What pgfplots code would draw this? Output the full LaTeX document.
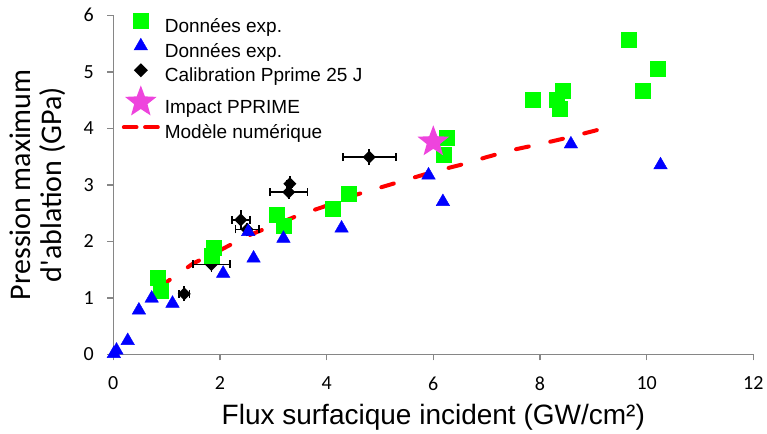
\documentclass[border=0pt]{standalone}
\usepackage{pgfplots}
\pgfplotsset{compat=1.18}
\usepackage{fontspec}
\setmainfont{Liberation Sans}
\newfontfamily\calibri{Carlito}
\definecolor{mgreen}{RGB}{0,255,0}
\definecolor{mblue}{RGB}{0,0,255}
\definecolor{mpink}{RGB}{238,68,221}
\definecolor{axgray}{RGB}{134,134,134}
\pgfdeclareplotmark{fstar}{%
  \pgfpathmoveto{\pgfpointpolar{90}{\pgfplotmarksize}}%
  \pgfpathlineto{\pgfpointpolar{126}{0.42\pgfplotmarksize}}%
  \pgfpathlineto{\pgfpointpolar{162}{\pgfplotmarksize}}%
  \pgfpathlineto{\pgfpointpolar{198}{0.42\pgfplotmarksize}}%
  \pgfpathlineto{\pgfpointpolar{234}{\pgfplotmarksize}}%
  \pgfpathlineto{\pgfpointpolar{270}{0.42\pgfplotmarksize}}%
  \pgfpathlineto{\pgfpointpolar{306}{\pgfplotmarksize}}%
  \pgfpathlineto{\pgfpointpolar{342}{0.42\pgfplotmarksize}}%
  \pgfpathlineto{\pgfpointpolar{18}{\pgfplotmarksize}}%
  \pgfpathlineto{\pgfpointpolar{54}{0.42\pgfplotmarksize}}%
  \pgfpathclose\pgfusepathqfill}
\pgfdeclareplotmark{sdiamond}{%
  \pgfpathmoveto{\pgfqpoint{0pt}{\pgfplotmarksize}}%
  \pgfpathlineto{\pgfqpoint{\pgfplotmarksize}{0pt}}%
  \pgfpathlineto{\pgfqpoint{0pt}{-\pgfplotmarksize}}%
  \pgfpathlineto{\pgfqpoint{-\pgfplotmarksize}{0pt}}%
  \pgfpathclose\pgfusepathqfill}

\pgfplotstableread{
x y
0.84 1.35
0.89 1.13
1.85 1.74
1.89 1.88
3.06 2.47
3.19 2.27
4.11 2.58
4.41 2.84
6.19 3.54
6.25 3.83
7.86 4.50
8.32 4.50
8.37 4.34
8.43 4.67
9.66 5.56
9.92 4.67
10.20 5.06
}\greendata

\pgfplotstableread{
x y
0.01 0.01
0.06 0.07
0.27 0.24
0.48 0.78
0.72 0.99
1.11 0.90
2.06 1.43
2.53 2.17
2.63 1.70
3.19 2.05
4.28 2.23
5.91 3.17
6.18 2.70
8.58 3.72
10.26 3.35
}\bluedata

\pgfplotstableread{
x y ex ey
1.33 1.07 0.10 0.06
1.84 1.59 0.35 0.06
2.39 2.38 0.17 0.10
2.51 2.21 0.22 0.05
3.31 3.02 0.05 0.06
3.29 2.87 0.35 0.05
4.80 3.49 0.50 0.07
}\blackdata

\pgfplotstableread{
x y
0.85 1.20
1.0 1.28
1.5 1.61
2.0 1.84
2.5 2.09
3.0 2.28
3.5 2.47
4.0 2.63
4.5 2.81
5.0 2.95
5.5 3.09
6.0 3.23
6.5 3.35
7.0 3.49
7.5 3.62
8.0 3.72
8.5 3.83
9.16 3.99
}\modeldata

\begin{document}
\begin{tikzpicture}
\useasboundingbox (0,0) rectangle (767pt,433pt);
\begin{axis}[
  at={(113.3pt,78.7pt)}, anchor=south west,
  scale only axis, width=640pt, height=339pt,
  xmin=0, xmax=12, ymin=0, ymax=6,
  xtick={0,2,...,12}, ytick={0,1,...,6},
  axis x line*=bottom, axis y line*=left,
  axis line style={axgray, line width=1.5pt, -},
  tick style={axgray, line width=1.5pt},
  tick align=outside, major tick length=6pt,
  /pgf/number format/assume math mode=true,
  ticklabel style={font=\calibri\fontsize{20}{24}\selectfont, text=black},
  yticklabel style={xshift=-10pt},
  xticklabel style={yshift=-13pt},
  xlabel={Flux surfacique incident (GW/cm²)},
  xlabel style={font=\fontsize{28}{30}\selectfont, at={(axis description cs:0.5,0)}, anchor=base, yshift=-69.7pt},
  ylabel={Pression maximum\\d'ablation (GPa)},
  ylabel style={font=\calibri\fontsize{30}{31}\selectfont, align=center, at={(axis description cs:-0.1177,0.5)}, anchor=center},
  legend image code/.code={\draw[mark repeat=2,mark phase=2,#1] plot coordinates {(0pt,6.5pt)(19pt,6.5pt)(38pt,6.5pt)};},
  legend cell align=left,
  legend style={draw=none, fill=none, inner sep=0pt, at={(rel axis cs:0.013,1.006)}, anchor=north west,
    font=\fontsize{19}{22}\selectfont, row sep=1.5pt,
    nodes={inner xsep=5pt, inner ysep=0pt, text height=14pt, text depth=4.5pt}},
]
\addlegendimage{only marks, mark=square*, mark size=7.5pt, mgreen}
\addlegendentry{Données exp.}
\addlegendimage{only marks, mark=triangle*, mark size=7.8pt, mblue}
\addlegendentry{Données exp.}
\addlegendimage{only marks, mark=sdiamond, mark size=7pt, black}
\addlegendentry{Calibration Pprime 25 J}
\addlegendimage{legend image code/.code={\path[overlay, draw=none, fill=mpink] plot[mark=fstar, mark size=16.6pt, only marks, mark options={draw=none, fill=mpink}] coordinates {(19pt,6.5pt)}; \path[draw=none, fill=none] (19pt,-14.5pt) -- (19pt,21pt);}}
\addlegendentry{Impact PPRIME}
\addlegendimage{legend image code/.code={\draw[red, line width=4pt, line cap=round] (2pt,6.5pt)--(14.7pt,6.5pt) (23.3pt,6.5pt)--(36pt,6.5pt);}}
\addlegendentry{Modèle numérique}

\addplot[forget plot, red, line width=4pt, line cap=round, dash pattern=on 13pt off 22pt] table[x=x,y=y] {\modeldata};
\addplot[forget plot, only marks, mark=none, draw=none,
  error bars/.cd, x dir=both, x explicit,
  error bar style={line width=1.8pt, black},
  error mark=|,
  error mark options={line width=1.8pt, mark size=4pt, black}]
  table[x=x, y=y, x error=ex] {\blackdata};
\addplot[forget plot, only marks, mark=sdiamond, mark size=6.5pt, black,
  error bars/.cd, y dir=both, y explicit,
  error bar style={line width=1.8pt, black},
  error mark=-,
  error mark options={line width=1.8pt, mark size=4pt, black}]
  table[x=x, y=y, y error=ey] {\blackdata};
\addplot[forget plot, only marks, mark=square*, mark size=7.5pt, mgreen] table[x=x,y=y] {\greendata};
\addplot[forget plot, only marks, mark=triangle*, mark size=7.8pt, mblue] table[x=x,y=y] {\bluedata};
\addplot[forget plot, only marks, mark=fstar, mark size=16.6pt, mpink, fill=mpink] coordinates {(6.0,3.76)};
\end{axis}
\end{tikzpicture}
\end{document}
